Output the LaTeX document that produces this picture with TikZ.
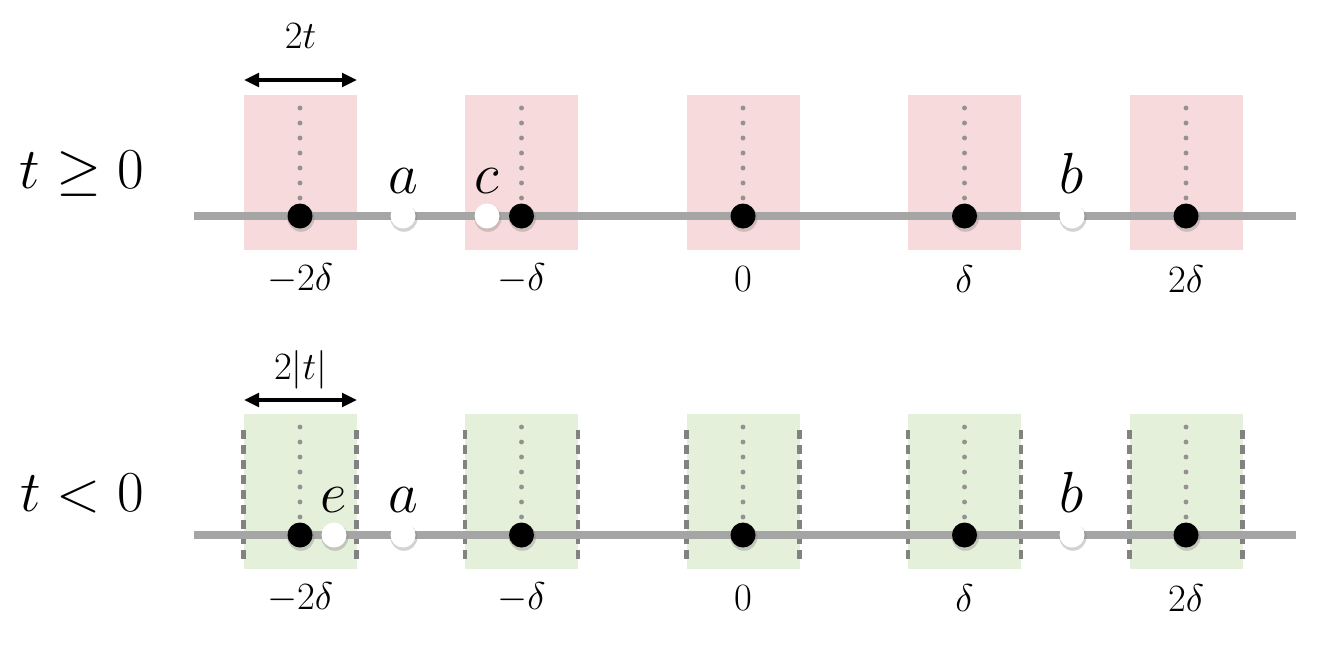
\documentclass[tikz,border=0pt]{standalone}
\usepackage{fix-cm}
\usetikzlibrary{arrows.meta,shadows}
\definecolor{boxred}{RGB}{247,218,219}
\definecolor{boxgreen}{RGB}{229,240,219}
\definecolor{linegray}{RGB}{165,165,165}
\definecolor{guidegray}{RGB}{150,145,145}
\definecolor{wallgray}{RGB}{130,130,130}
\begin{document}
\begin{tikzpicture}[x=0.02cm,y=-0.02cm,
	fulldot/.style={circle,inner sep=0pt,minimum size=0.5cm,fill=black,drop shadow={opacity=0.35,shadow xshift=0.5pt,shadow yshift=-1.2pt,shadow scale=1.08}},
	opendot/.style={fulldot,fill=white},
	ticklab/.style={font=\fontsize{22}{26}\selectfont},
	letterlab/.style={font=\fontsize{33}{40}\selectfont,anchor=base},
	numline/.style={line width=4pt,linegray},
	guide/.style={line width=2.8pt,guidegray,line cap=round,dash pattern=on 0pt off 0.3cm},
	wall/.style={line width=2.6pt,wallgray,dash pattern=on 0.18cm off 0.12cm},
	width/.style={line width=2pt,{Triangle[length=0.3cm,width=0.27cm]}-{Triangle[length=0.3cm,width=0.27cm]}}]
	\useasboundingbox (0,0) rectangle (1322,650);
	% boxes and ticks, one row per sign of t
	\foreach \y/\col/\r in {216/boxred/p,535/boxgreen/n}{
		\foreach \i/\lab in {-2/{$-2\delta$},-1/{$-\delta$},0/{$0$},1/{$\delta$},2/{$2\delta$}}{
			\pgfmathsetmacro\xx{743+221.5*\i}
			\fill[\col] (\xx-56.5,\y-121) rectangle (\xx+56.5,\y+34);
			\node[ticklab] (lab\r\i) at (\xx,\y+63) {\lab};
		}
	}
	\foreach \i in {-2,...,2}{
		\pgfmathsetmacro\xx{743+221.5*\i}
		\draw[wall] (\xx-56.5,430) -- (\xx-56.5,562);
		\draw[wall] (\xx+56.5,430) -- (\xx+56.5,562);
	}
	\coordinate (pl) at (194,216); \coordinate (pr) at (1296,216);
	\coordinate (nl) at (194,535); \coordinate (nr) at (1296,535);
	\draw[numline] (pl)--(pr);
	\draw[numline] (nl)--(nr);
	\foreach \y/\r in {216/p,535/n}{
		\foreach \i in {-2,...,2}{
			\pgfmathsetmacro\xx{743+221.5*\i}
			\coordinate (top\r\i) at (\xx,\y-108);
			\node[fulldot] (d\r\i) at (\xx,\y) {};
			\draw[guide] (top\r\i) -- (\xx,\y-14);
		}
	}
	% points of the top row
	\node[opendot] (pa) at (403,216) {};
	\node[opendot] (pc) at (487,216) {};
	\node[opendot] (pb) at (1072,216) {};
	\node[letterlab] (la) at (403,193) {$a$};
	\node[letterlab] (lc) at (487,193) {$c$};
	\node[letterlab] (lb) at (1072,193) {$b$};
	% points of the bottom row
	\node[opendot] (ne) at (334,535) {};
	\node[opendot] (na) at (403,535) {};
	\node[opendot] (nb) at (1072,535) {};
	\node[letterlab] (le) at (334,512) {$e$};
	\node[letterlab] (la2) at (403,512) {$a$};
	\node[letterlab] (lb2) at (1072,512) {$b$};
	% widths
	\coordinate (wpl) at (244,80); \coordinate (wpr) at (357,80);
	\draw[width] (wpl) -- (wpr);
	\node[ticklab,anchor=base] (wp) at (300.5,48) {$2t$};
	\coordinate (wnl) at (244,400); \coordinate (wnr) at (357,400);
	\draw[width] (wnl) -- (wnr);
	\node[ticklab,anchor=base] (wn) at (300.5,379) {$2|t|$};
	% signs
	\node[font=\fontsize{33}{40}\selectfont] (sp) at (82,174) {$t\geq 0$};
	\node[font=\fontsize{33}{40}\selectfont] (sn) at (82,494) {$t<0$};
\end{tikzpicture}
\end{document}
